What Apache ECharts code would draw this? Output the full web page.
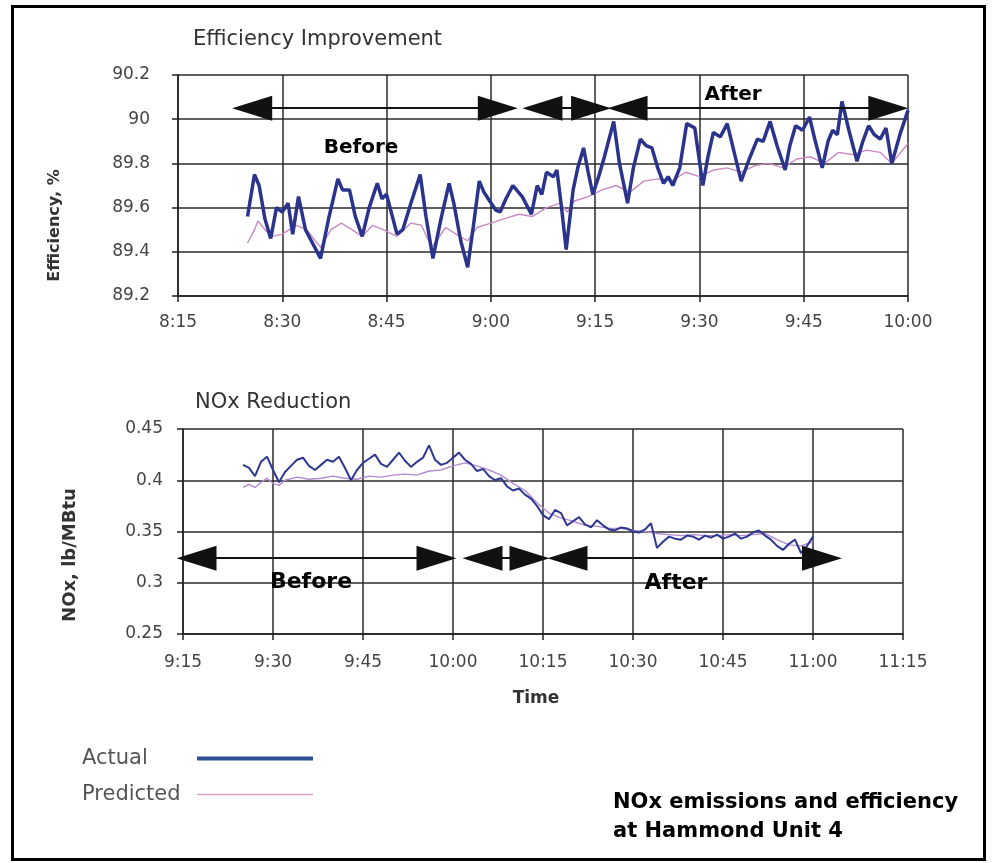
<!DOCTYPE html>
<html lang="en">
<head>
<meta charset="utf-8">
<title>NOx emissions and efficiency at Hammond Unit 4</title>
<style>
  html, body { margin: 0; padding: 0; background: #fff; }
  #frame { position: absolute; left: 11px; top: 5px; width: 969px; height: 850px; border: 3px solid #000; }
  #chart { position: absolute; left: 0; top: 0; width: 992px; height: 863px; }
</style>
</head>
<body>
<div id="frame"></div>
<div id="chart"></div>
<script src="https://cdn.jsdelivr.net/npm/echarts@6/dist/echarts.min.js"></script>
<script>
// ---- Efficiency Improvement (top) ----
var effActualTime = ['8:25:00','8:26:00','8:26:40','8:27:30','8:28:20','8:29:10','8:30:00','8:30:50','8:31:30','8:32:20',
  '8:33:20','8:34:00','8:35:30','8:36:40','8:38:00','8:38:40','8:39:40','8:40:30','8:41:30','8:42:30',
  '8:43:40','8:44:20','8:45:00','8:46:30','8:47:20','8:48:30','8:49:50','8:50:40','8:51:40','8:52:50',
  '8:54:00','8:54:40','8:55:40','8:56:40','8:57:30','8:58:20','8:59:00','8:59:50','9:00:40','9:01:20',
  '9:02:10','9:03:10','9:04:30','9:05:10','9:05:50','9:06:40','9:07:20','9:08:00','9:09:00','9:09:30',
  '9:10:10','9:10:50','9:11:50','9:12:30','9:13:20','9:14:00','9:14:40','9:15:30','9:16:20','9:17:40',
  '9:18:30','9:19:40','9:20:30','9:21:30','9:22:20','9:23:10','9:24:00','9:24:50','9:25:30','9:26:10',
  '9:27:10','9:28:10','9:29:20','9:30:30','9:31:10','9:32:00','9:33:00','9:34:00','9:35:00','9:36:00',
  '9:37:10','9:38:20','9:39:10','9:40:10','9:41:10','9:42:20','9:43:00','9:43:50','9:44:50','9:45:50',
  '9:46:40','9:47:40','9:48:30','9:49:10','9:49:50','9:50:30','9:51:30','9:52:40','9:53:30','9:54:20',
  '9:55:10','9:56:00','9:56:50','9:57:40','9:58:50','10:00:00'];
var effActual = [89.56,89.75,89.70,89.55,89.46,89.60,89.58,89.62,89.48,89.65,
  89.50,89.46,89.37,89.55,89.73,89.68,89.68,89.56,89.47,89.60,
  89.71,89.64,89.66,89.48,89.50,89.62,89.75,89.56,89.37,89.55,
  89.71,89.62,89.45,89.33,89.52,89.72,89.67,89.63,89.59,89.58,
  89.64,89.70,89.65,89.61,89.57,89.70,89.66,89.76,89.74,89.77,
  89.60,89.41,89.68,89.78,89.87,89.76,89.66,89.74,89.83,89.99,
  89.80,89.62,89.78,89.91,89.88,89.87,89.78,89.71,89.74,89.70,
  89.78,89.98,89.96,89.70,89.82,89.94,89.92,89.98,89.85,89.72,
  89.82,89.91,89.90,89.99,89.88,89.77,89.88,89.97,89.95,90.01,
  89.90,89.78,89.90,89.95,89.93,90.08,89.95,89.81,89.90,89.97,
  89.93,89.91,89.96,89.80,89.93,90.04];
var effPredTime = ['8:25:00','8:26:00','8:26:30','8:27:30','8:28:30','8:30:00','8:31:00','8:32:00','8:33:30','8:35:30',
  '8:37:00','8:38:30','8:40:00','8:41:30','8:43:00','8:44:30','8:46:30','8:48:30','8:50:00','8:51:30',
  '8:53:30','8:55:30','8:56:40','8:58:00','9:00:00','9:02:00','9:04:00','9:06:00','9:08:00','9:10:00',
  '9:11:00','9:12:00','9:14:00','9:16:00','9:18:00','9:20:00','9:22:00','9:24:00','9:26:00','9:28:00',
  '9:30:00','9:32:00','9:34:00','9:36:00','9:38:00','9:40:00','9:42:00','9:44:00','9:46:00','9:48:00',
  '9:50:00','9:52:00','9:54:00','9:56:00','9:57:40','10:00:00'];
var effPred = [89.44,89.50,89.54,89.50,89.47,89.48,89.50,89.52,89.50,89.42,
  89.50,89.53,89.50,89.47,89.52,89.50,89.47,89.53,89.52,89.42,
  89.51,89.47,89.45,89.51,89.53,89.55,89.57,89.56,89.60,89.62,
  89.58,89.63,89.65,89.68,89.70,89.67,89.72,89.73,89.72,89.76,
  89.74,89.77,89.78,89.76,89.79,89.80,89.78,89.82,89.83,89.80,
  89.85,89.84,89.86,89.85,89.80,89.89];

// ---- NOx Reduction (bottom) ----
var noxActualStart = '9:25';   // one reading per minute
var noxActual = [0.415,0.412,0.404,0.418,0.423,0.410,0.398,0.408,0.414,0.420,
  0.422,0.414,0.410,0.415,0.420,0.418,0.423,0.412,0.400,0.410,
  0.417,0.421,0.425,0.416,0.413,0.420,0.427,0.419,0.413,0.418,
  0.422,0.434,0.420,0.415,0.417,0.422,0.427,0.420,0.416,0.409,
  0.411,0.404,0.400,0.402,0.394,0.390,0.392,0.386,0.382,0.375,
  0.366,0.362,0.371,0.368,0.356,0.360,0.364,0.357,0.354,0.361,
  0.356,0.352,0.351,0.354,0.353,0.350,0.349,0.352,0.358,0.334,
  0.340,0.345,0.343,0.342,0.346,0.345,0.342,0.346,0.344,0.347,
  0.343,0.345,0.348,0.343,0.345,0.349,0.351,0.346,0.342,0.336,
  0.332,0.338,0.342,0.329,0.336,0.345];
var noxPredTime = ['9:25','9:26','9:27','9:28','9:29','9:30','9:31','9:32','9:34','9:36',
  '9:38','9:40','9:42','9:44','9:46','9:48','9:50','9:52','9:54','9:56',
  '9:58','10:00','10:02','10:04','10:06','10:08','10:10','10:12','10:14','10:16',
  '10:18','10:20','10:22','10:24','10:26','10:28','10:30','10:32','10:34','10:36',
  '10:38','10:40','10:42','10:44','10:46','10:48','10:50','10:52','10:54','10:56',
  '10:58','11:00'];
var noxPred = [0.393,0.396,0.393,0.398,0.402,0.397,0.395,0.400,0.403,0.401,
  0.402,0.404,0.402,0.401,0.404,0.403,0.405,0.406,0.405,0.409,
  0.410,0.414,0.417,0.414,0.410,0.405,0.397,0.390,0.378,0.368,
  0.363,0.360,0.356,0.355,0.353,0.353,0.351,0.350,0.348,0.347,
  0.346,0.347,0.346,0.346,0.347,0.346,0.347,0.348,0.342,0.337,
  0.336,0.340];

// Before / After arrows: [from, to] times at the arrow-head centres
var effArrowY = 90.05;
var effArrows = [['8:25:40', '9:01:00'], ['9:07:25', '9:14:25'], ['9:19:40', '9:57:10']];
var noxArrowY = 0.324;
var noxArrows = [['9:17:15', '9:57:15'], ['10:04:55', '10:12:45'], ['10:19:05', '11:01:30']];
var effNotes = [['Before', '8:41:20', 89.87], ['After', '9:34:50', 90.11]];
var noxNotes = [['Before', '9:36:20', 0.300], ['After', '10:37:10', 0.299]];

function toMin(s) {
  var p = s.split(':');
  return +p[0] * 60 + +p[1] + (p[2] ? +p[2] / 60 : 0);
}
function fmtTime(v) {
  var h = Math.floor(v / 60), m = Math.round(v - h * 60);
  return h + ':' + (m < 10 ? '0' + m : m);
}
function pairs(times, vals) {
  return vals.map(function (v, i) { return [toMin(times[i]), v]; });
}
function arrowLines(list, y) {
  return list.map(function (a) { return [{ coord: [toMin(a[0]), y] }, { coord: [toMin(a[1]), y] }]; });
}
function notes(list) {
  return list.map(function (n) { return { name: n[0], coord: [toMin(n[1]), n[2]] }; });
}

var noxActualData = noxActual.map(function (v, i) { return [toMin(noxActualStart) + i, v]; });

var FONT = 'DejaVu Sans';
var axisLine = { show: true, lineStyle: { color: '#222', width: 1.5 } };
var gridLine = { show: true, lineStyle: { color: '#2a2a2a', width: 1.5 } };
var tickStyle = { show: true, length: 6, lineStyle: { color: '#222', width: 1.5 } };
var labelStyle = { color: '#444', fontFamily: FONT, fontSize: 17 };

function markArrows(list, y) {
  return {
    silent: true,
    symbol: ['triangle', 'triangle'],
    symbolSize: [25, 40],
    label: { show: false },
    lineStyle: { color: '#111', width: 2, type: 'solid' },
    itemStyle: { color: '#000' },
    emphasis: { disabled: true },
    data: arrowLines(list, y)
  };
}
function markNotes(list, size) {
  return {
    silent: true,
    symbol: 'circle',
    symbolSize: 1,
    itemStyle: { color: 'rgba(0,0,0,0)' },
    label: { show: true, position: 'inside', formatter: '{b}', color: '#000',
      fontFamily: FONT, fontWeight: 'bold', fontSize: size },
    data: notes(list)
  };
}

var chart = echarts.init(document.getElementById('chart'), null, { renderer: 'canvas' });
chart.setOption({
  animation: false,
  backgroundColor: 'transparent',
  title: [
    { text: 'Efficiency Improvement', left: 193, top: 29, padding: 0,
      textStyle: { fontFamily: FONT, fontSize: 21, fontWeight: 'normal', color: '#333' } },
    { text: 'NOx Reduction', left: 195, top: 392, padding: 0,
      textStyle: { fontFamily: FONT, fontSize: 21, fontWeight: 'normal', color: '#333' } },
    { text: 'NOx emissions and efficiency\nat Hammond Unit 4', left: 613, top: 788, padding: 0,
      textStyle: { fontFamily: FONT, fontSize: 21, fontWeight: 'bold', color: '#000', lineHeight: 29 } }
  ],
  legend: {
    left: 82, top: 748, orient: 'vertical', align: 'right', itemGap: 15, padding: 0,
    itemWidth: 116, itemHeight: 14, selectedMode: false,
    formatter: '{t|{name}}',
    textStyle: {
      rich: { t: { fontFamily: FONT, fontSize: 21, color: '#555', width: 110, align: 'left' } }
    },
    data: [
      { name: 'Actual', icon: 'path://M0,0 L116,0 L116,4 L0,4 Z', itemStyle: { color: '#2f4f96' } },
      { name: 'Predicted', icon: 'path://M0,0 L116,0 L116,1.5 L0,1.5 Z', itemStyle: { color: '#d6a3c6' } }
    ]
  },
  grid: [
    { left: 178, top: 75, width: 730, height: 221 },
    { left: 183, top: 429, width: 720, height: 205 }
  ],
  xAxis: [
    { type: 'value', gridIndex: 0, min: 495, max: 600, interval: 15,
      axisLine: axisLine, axisTick: tickStyle, splitLine: gridLine,
      axisLabel: Object.assign({ margin: 18, formatter: fmtTime }, labelStyle) },
    { type: 'value', gridIndex: 1, min: 555, max: 675, interval: 15,
      axisLine: axisLine, axisTick: tickStyle, splitLine: gridLine,
      axisLabel: Object.assign({ margin: 20, formatter: fmtTime }, labelStyle),
      name: 'Time', nameLocation: 'middle', nameGap: 56,
      nameTextStyle: { fontFamily: FONT, fontWeight: 'bold', fontSize: 17, color: '#333', padding: [0, 14, 0, 0] } }
  ],
  yAxis: [
    { type: 'value', gridIndex: 0, min: 89.2, max: 90.2, interval: 0.2,
      axisLine: axisLine, axisTick: tickStyle, splitLine: gridLine,
      axisLabel: Object.assign({ margin: 28 }, labelStyle),
      name: 'Efficiency, %', nameLocation: 'middle', nameRotate: 90, nameGap: 115,
      nameTextStyle: { fontFamily: FONT, fontWeight: 'bold', fontSize: 16, color: '#333', padding: [0, 80, 0, 0] } },
    { type: 'value', gridIndex: 1, min: 0.25, max: 0.45, interval: 0.05,
      axisLine: axisLine, axisTick: tickStyle, splitLine: gridLine,
      axisLabel: Object.assign({ margin: 20 }, labelStyle),
      name: 'NOx, lb/MBtu', nameLocation: 'middle', nameRotate: 90, nameGap: 104,
      nameTextStyle: { fontFamily: FONT, fontWeight: 'bold', fontSize: 18, color: '#333', padding: [0, 47, 0, 0] } }
  ],
  series: [
    { name: 'Predicted', type: 'line', xAxisIndex: 0, yAxisIndex: 0, symbol: 'none', silent: true,
      lineStyle: { color: '#c98ac4', width: 1.4 }, itemStyle: { color: '#c98ac4' },
      data: pairs(effPredTime, effPred) },
    { name: 'Actual', type: 'line', xAxisIndex: 0, yAxisIndex: 0, symbol: 'none', silent: true,
      lineStyle: { color: '#2b348c', width: 3.5 }, itemStyle: { color: '#2b348c' },
      data: pairs(effActualTime, effActual),
      markLine: markArrows(effArrows, effArrowY),
      markPoint: markNotes(effNotes, 20) },
    { name: 'Predicted', type: 'line', xAxisIndex: 1, yAxisIndex: 1, symbol: 'none', silent: true,
      lineStyle: { color: '#b48ad0', width: 1.4 }, itemStyle: { color: '#b48ad0' },
      data: pairs(noxPredTime, noxPred) },
    { name: 'Actual', type: 'line', xAxisIndex: 1, yAxisIndex: 1, symbol: 'none', silent: true,
      lineStyle: { color: '#2e3892', width: 2 }, itemStyle: { color: '#2e3892' },
      data: noxActualData,
      markLine: markArrows(noxArrows, noxArrowY),
      markPoint: markNotes(noxNotes, 22) }
  ]
});
</script>
</body>
</html>
